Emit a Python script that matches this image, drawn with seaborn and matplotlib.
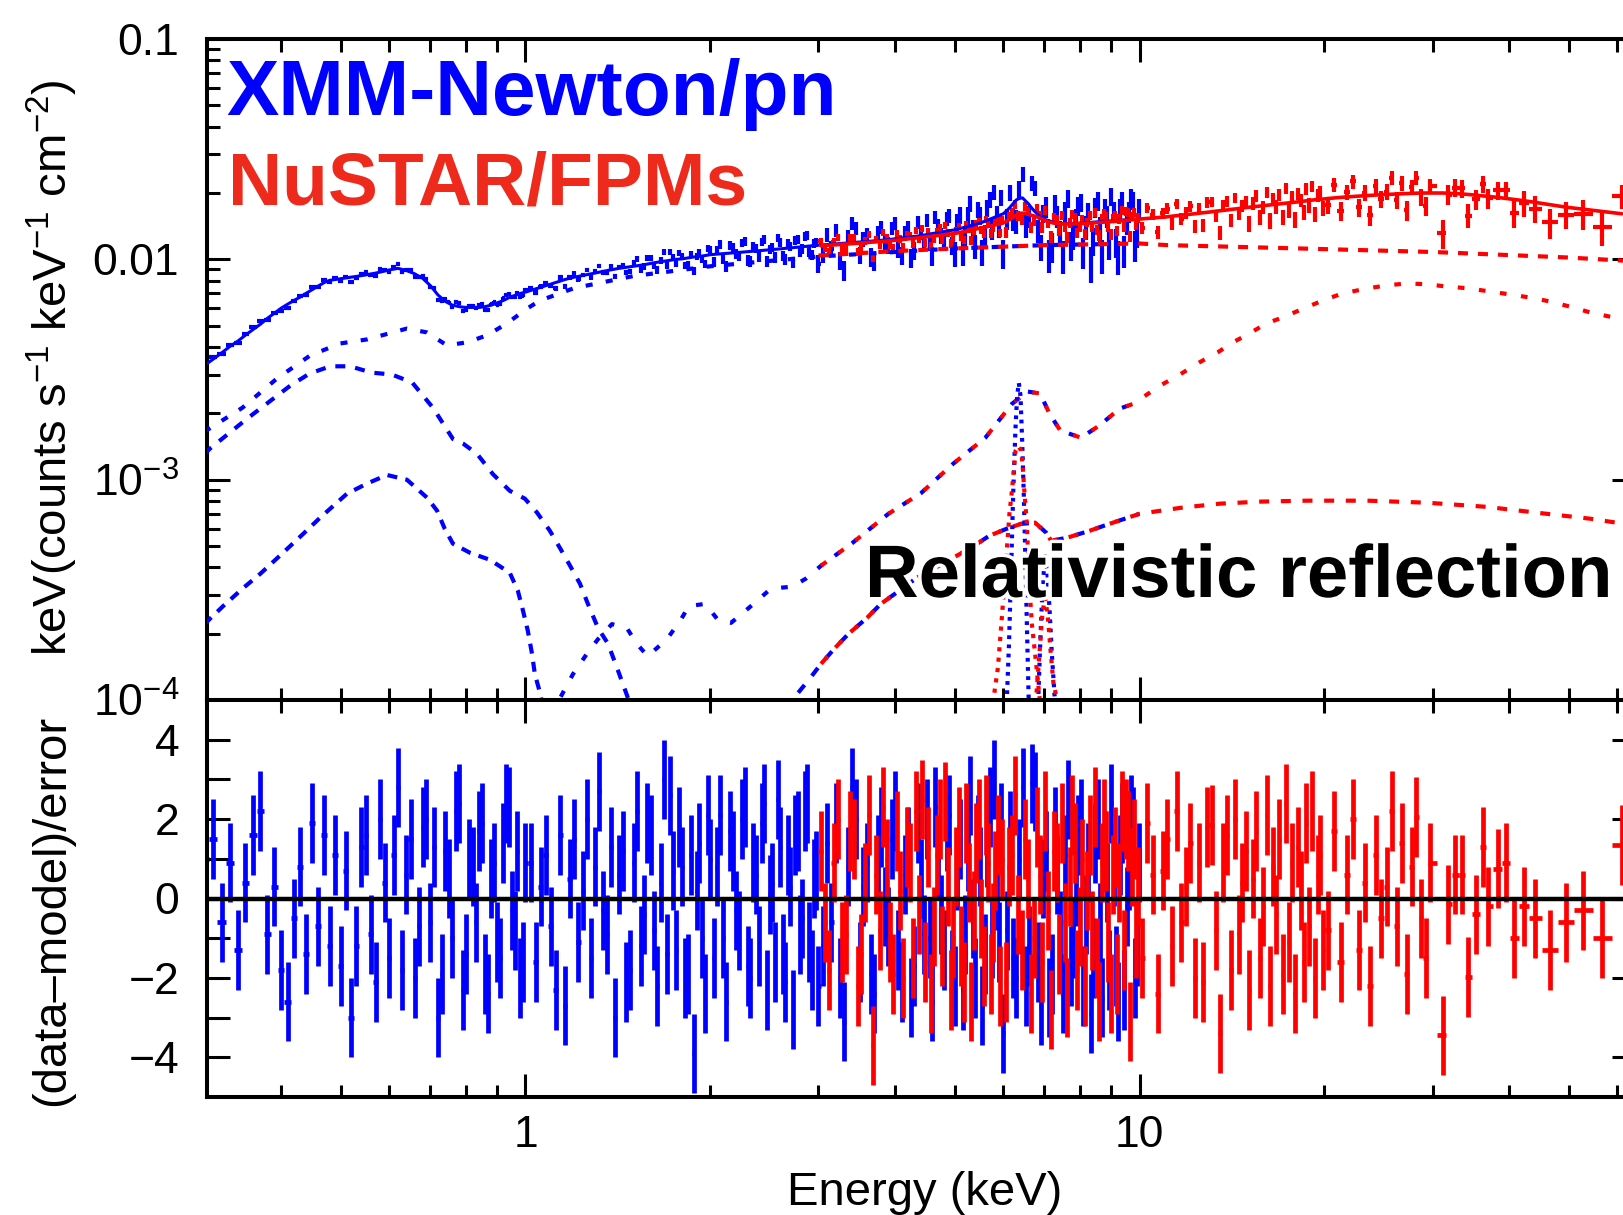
import numpy as np
import matplotlib as mpl
mpl.use('Agg')
import matplotlib.pyplot as plt
import matplotlib.patheffects as pe
from matplotlib.ticker import FixedLocator, FixedFormatter, NullFormatter
import seaborn as sns

sns.set_theme(style='ticks', rc={'axes.edgecolor': 'black', 'xtick.color': 'black',
                                 'ytick.color': 'black', 'text.color': 'black'})
plt.rcParams['font.family'] = ['Liberation Sans', 'DejaVu Sans']
plt.rcParams['mathtext.fontset'] = 'custom'
plt.rcParams['mathtext.rm'] = 'Liberation Sans'
plt.rcParams['mathtext.it'] = 'Liberation Sans:italic'
plt.rcParams['mathtext.bf'] = 'Liberation Sans:bold'
plt.rcParams['axes.unicode_minus'] = True

BLUE = '#0000ff'
RED = '#ff0000'

# ---- XMM-Newton/pn spectrum: bin energy (keV), model (1e-3 units), residual ----
blue_energy = [
    0.30, 0.31, 0.32, 0.33, 0.34, 0.35, 0.36, 0.37, 0.38, 0.39, 0.40,
    0.41, 0.42, 0.43, 0.44, 0.45, 0.46, 0.47, 0.48, 0.49, 0.50,
    0.51, 0.52, 0.53, 0.54, 0.55, 0.56, 0.57, 0.58, 0.59, 0.60,
    0.61, 0.62, 0.63, 0.64, 0.65, 0.66, 0.67, 0.68, 0.69, 0.70,
    0.71, 0.72, 0.73, 0.74, 0.75, 0.76, 0.77, 0.78, 0.79, 0.80,
    0.81, 0.82, 0.83, 0.84, 0.85, 0.86, 0.87, 0.88, 0.89, 0.90,
    0.91, 0.92, 0.93, 0.94, 0.95, 0.96, 0.97, 0.98, 0.99, 1.00,
    1.02, 1.04, 1.06, 1.08, 1.10, 1.12, 1.14, 1.16, 1.18, 1.20,
    1.22, 1.24, 1.26, 1.28, 1.30, 1.32, 1.34, 1.36, 1.38, 1.40,
    1.42, 1.44, 1.46, 1.48, 1.50, 1.52, 1.54, 1.56, 1.58, 1.60,
    1.62, 1.64, 1.66, 1.68, 1.70, 1.72, 1.74, 1.76, 1.78, 1.80,
    1.82, 1.84, 1.86, 1.88, 1.90, 1.92, 1.94, 1.96, 1.98, 2.00,
    2.025, 2.05, 2.075, 2.10, 2.125, 2.15, 2.175, 2.20, 2.225, 2.25,
    2.275, 2.30, 2.325, 2.35, 2.375, 2.40, 2.425, 2.45, 2.475, 2.50,
    2.525, 2.55, 2.575, 2.60, 2.625, 2.65, 2.675, 2.70, 2.725, 2.75,
    2.775, 2.80, 2.825, 2.85, 2.875, 2.90, 2.925, 2.95, 2.975, 3.00,
    3.05, 3.10, 3.15, 3.20, 3.25, 3.30, 3.35, 3.40, 3.45, 3.50,
    3.55, 3.60, 3.65, 3.70, 3.75, 3.80, 3.85, 3.90, 3.95, 4.00,
    4.05, 4.10, 4.15, 4.20, 4.25, 4.30, 4.35, 4.40, 4.45, 4.50,
    4.55, 4.60, 4.65, 4.70, 4.75, 4.80, 4.85, 4.90, 4.95, 5.00,
    5.05, 5.10, 5.15, 5.20, 5.25, 5.30, 5.35, 5.40, 5.45, 5.50,
    5.55, 5.60, 5.65, 5.70, 5.75, 5.80, 5.85, 5.90, 5.95, 6.00,
    6.075, 6.15, 6.225, 6.30, 6.375, 6.45, 6.525, 6.60, 6.675, 6.75,
    6.825, 6.90, 6.975, 7.05, 7.125, 7.20, 7.275, 7.35, 7.425, 7.50,
    7.575, 7.65, 7.725, 7.80, 7.875, 7.95, 8.025, 8.10, 8.175, 8.25,
    8.325, 8.40, 8.475, 8.55, 8.625, 8.70, 8.775, 8.85, 8.925, 9.00,
    9.075, 9.15, 9.225, 9.30, 9.375, 9.45, 9.525, 9.60, 9.675, 9.75,
    9.825, 9.90, 9.975,
]
blue_model = [
    3.30, 3.52, 3.76, 4.02, 4.25, 4.53, 4.80, 5.07, 5.40, 5.69, 6.00,
    6.26, 6.51, 6.75, 7.03, 7.30, 7.57, 7.84, 8.03, 8.10, 8.17,
    8.23, 8.30, 8.36, 8.43, 8.50, 8.58, 8.66, 8.75, 8.85, 8.95,
    9.03, 9.10, 9.00, 8.90, 8.75, 8.60, 8.40, 8.20, 7.90, 7.60,
    7.25, 6.90, 6.67, 6.45, 6.32, 6.20, 6.15, 6.10, 6.07, 6.05,
    6.05, 6.05, 6.05, 6.05, 6.07, 6.10, 6.15, 6.20, 6.27, 6.35,
    6.42, 6.50, 6.60, 6.70, 6.77, 6.85, 6.92, 7.00, 7.05, 7.10,
    7.22, 7.35, 7.47, 7.60, 7.72, 7.85, 7.97, 8.10, 8.20, 8.30,
    8.37, 8.45, 8.52, 8.60, 8.67, 8.75, 8.82, 8.90, 8.97, 9.05,
    9.10, 9.15, 9.20, 9.25, 9.30, 9.35, 9.40, 9.45, 9.52, 9.60,
    9.65, 9.70, 9.75, 9.80, 9.85, 9.90, 9.95, 10.0, 10.02, 10.05,
    10.1, 10.15, 10.2, 10.25, 10.27, 10.3, 10.35, 10.4, 10.45, 10.5,
    10.53, 10.56, 10.58, 10.61, 10.64, 10.67, 10.69, 10.72, 10.75, 10.78,
    10.8, 10.83, 10.86, 10.89, 10.91, 10.94, 10.97, 11.0, 11.02, 11.05,
    11.08, 11.1, 11.13, 11.16, 11.19, 11.21, 11.24, 11.27, 11.3, 11.32,
    11.35, 11.38, 11.41, 11.43, 11.46, 11.49, 11.52, 11.54, 11.57, 11.6,
    11.63, 11.67, 11.71, 11.75, 11.78, 11.82, 11.86, 11.9, 11.93, 11.97,
    12.0, 12.04, 12.08, 12.12, 12.16, 12.2, 12.24, 12.28, 12.34, 12.4,
    12.45, 12.5, 12.55, 12.6, 12.65, 12.7, 12.75, 12.8, 12.87, 12.95,
    13.02, 13.1, 13.15, 13.2, 13.28, 13.35, 13.42, 13.5, 13.55, 13.6,
    13.7, 13.8, 13.9, 14.0, 14.1, 14.2, 14.3, 14.4, 14.5, 14.6,
    14.75, 14.9, 15.05, 15.2, 15.35, 15.5, 15.65, 15.8, 15.95, 16.1,
    16.6, 17.2, 17.9, 18.6, 18.9, 19.0, 18.4, 17.8, 17.1, 16.5,
    16.0, 15.6, 15.35, 15.1, 14.95, 14.8, 14.7, 14.6, 14.55, 14.5,
    14.5, 14.5, 14.52, 14.55, 14.57, 14.6, 14.62, 14.65, 14.67, 14.7,
    14.72, 14.75, 14.77, 14.8, 14.82, 14.85, 14.87, 14.9, 14.92, 14.95,
    14.97, 15.0, 15.02, 15.05, 15.07, 15.1, 15.12, 15.15, 15.17, 15.2,
    15.22, 15.25, 15.27,
]
blue_resid = [
    1.0, 1.5, -0.6, 0.9, -1.3, 0.4, 1.6, 2.2, -0.9, 0.3, -1.8,
    -2.6, -0.5, 0.8, -1.4, 1.9, -0.7, 1.6, -1.2, 1.1, -1.7,
    0.7, -3.0, -1.2, 1.3, 1.6, -0.9, -2.1, 2.0, 0.4, -1.5,
    1.1, 2.8, -1.8, 0.6, 1.5, -2.0, -0.7, 1.8, 2.0, -0.6,
    1.3, -3.0, -1.9, 1.2, 0.5, -1.0, 2.2, 2.4, -2.3, -1.4,
    1.0, 0.8, -0.6, 1.7, 1.9, -1.9, -2.4, 0.5, 0.9, -1.1,
    -1.5, 1.4, 2.4, 2.3, -0.3, -0.8, 1.2, -2.0, -1.6, 0.9,
    0.9, -1.6, 0.3, 1.1, -0.7, -2.3, 1.6, -2.7, 0.5, 1.5,
    -1.1, 0.2, 2.0, -1.5, 0.8, 2.7, -0.3, -0.9, 1.3, -3.0,
    0.6, 1.2, -2.1, -1.8, 0.9, 2.2, -1.2, -0.4, 1.9, 1.6,
    -0.8, -2.2, 0.4, 3.0, -1.4, 2.6, 0.7, -1.3, 1.8, 0.8,
    -2.0, -1.9, 1.1, -3.9, 0.2, 1.4, -1.0, -2.4, 2.1, 1.0,
    -1.5, 0.8, 2.1, -1.0, -2.6, 1.7, 1.2, -0.3, -0.8, 2.0,
    2.3, -1.7, -2.0, 0.9, 0.6, -1.2, 1.9, 2.4, -2.3, 0.1,
    0.4, -1.6, 2.5, 1.3, -1.4, -2.1, 1.1, 0.3, -2.8, 1.6,
    1.7, -0.9, -0.5, 2.2, 2.4, -1.1, -1.8, 0.5, 0.7, -2.2,
    -1.2, 1.4, -0.6, 1.9, -2.0, -3.1, 0.8, 2.8, 2.0, -1.6,
    0.3, 0.9, -1.9, -2.4, 1.1, 1.8, -0.2, -0.7, 1.5, 2.2,
    -1.3, -2.1, 0.6, 1.3, -2.5, -1.7, 1.9, 0.5, -0.9, 2.0,
    -1.0, -2.6, 2.3, 1.0, -0.4, -1.3, 1.7, 2.1, -1.8, -2.2,
    0.7, 1.5, -2.3, -0.9, 1.2, 2.6, -0.5, -2.0, 1.6, 0.8,
    -2.7, -1.4, 1.3, 2.3, -1.0, 3.0, 0.2, -1.1, 1.9, -3.4,
    -0.8, 1.7, -1.5, -2.0, 1.0, 2.8, -2.2, -1.2, 2.9, 2.7,
    -1.6, -2.7, 0.5, 1.2, -2.5, -1.9, 1.8, 0.6, -0.8, -2.4,
    1.1, 2.5, -1.7, -1.0, 0.3, 1.6, 2.0, -2.2, -0.4, 0.9,
    -2.9, -1.5, 1.4, 2.0, -0.6, -2.5, 1.2, 0.4, -1.8, 2.4,
    0.8, -1.7, -2.6, 1.1, 1.9, -2.3, -0.2, 0.7, 2.1, 1.8,
    -2.0, -1.2, 0.9,
]
blue_err_edges = [0.3, 0.7, 1.0, 1.5, 2.0, 3.0, 5.0, 7.0, 10.0]
blue_err_level = [0.016, 0.018, 0.025, 0.035, 0.05, 0.08, 0.10, 0.12]

# ---- NuSTAR/FPMs spectrum ----
red_energy = [
    3.025, 3.075, 3.125, 3.175, 3.225, 3.275, 3.325, 3.375, 3.425, 3.475,
    3.525, 3.575, 3.625, 3.675, 3.725, 3.775, 3.825, 3.875, 3.925, 3.975,
    4.025, 4.075, 4.125, 4.175, 4.225, 4.275, 4.325, 4.375, 4.425, 4.475,
    4.525, 4.575, 4.625, 4.675, 4.725, 4.775, 4.825, 4.875, 4.925, 4.975,
    5.025, 5.075, 5.125, 5.175, 5.225, 5.275, 5.325, 5.375, 5.425, 5.475,
    5.525, 5.575, 5.625, 5.675, 5.725, 5.775, 5.825, 5.875, 5.925, 5.975,
    6.05, 6.125, 6.20, 6.275, 6.35, 6.425, 6.50, 6.575, 6.65, 6.725,
    6.80, 6.875, 6.95, 7.025, 7.10, 7.175, 7.25, 7.325, 7.40, 7.475,
    7.55, 7.625, 7.70, 7.775, 7.85, 7.925, 8.00, 8.075, 8.15, 8.225,
    8.30, 8.375, 8.45, 8.525, 8.60, 8.675, 8.75, 8.825, 8.90, 8.975,
    9.05, 9.125, 9.20, 9.275, 9.35, 9.425, 9.50, 9.575, 9.65, 9.725,
    9.80, 9.875, 9.95,
    10.1, 10.3, 10.5, 10.7, 10.9, 11.1, 11.3, 11.5, 11.7, 11.9,
    12.1, 12.3, 12.5, 12.7, 12.9, 13.1, 13.3, 13.5, 13.7, 13.9,
    14.1, 14.3, 14.5, 14.7, 14.9, 15.1, 15.3, 15.5, 15.7, 15.9,
    16.1, 16.3, 16.5, 16.7, 16.9, 17.1, 17.3, 17.5, 17.7, 17.9,
    18.1, 18.3, 18.5, 18.7, 18.9, 19.1, 19.3, 19.5, 19.7, 19.9,
    20.25, 20.75, 21.25, 21.75, 22.25, 22.75, 23.25, 23.75, 24.25, 24.75,
    25.25, 25.75, 26.25, 26.75, 27.25, 27.75, 28.25, 28.75, 29.25, 29.75,
    31.2, 31.8, 32.7, 33.5, 34.3, 35.3, 36.3, 37.0, 38.3, 39.5,
    40.7, 42.3, 44.0, 46.6, 49.5, 52.7, 56.7, 61.0,
]
red_model = [
    11.52, 11.55, 11.59, 11.62, 11.66, 11.69, 11.73, 11.76, 11.8, 11.83,
    11.87, 11.9, 11.94, 11.97, 12.01, 12.04, 12.08, 12.11, 12.15, 12.18,
    12.22, 12.27, 12.31, 12.36, 12.4, 12.45, 12.49, 12.54, 12.58, 12.63,
    12.67, 12.72, 12.76, 12.81, 12.85, 12.9, 12.94, 12.99, 13.03, 13.08,
    13.14, 13.21, 13.29, 13.36, 13.44, 13.51, 13.59, 13.66, 13.74, 13.81,
    13.89, 13.96, 14.04, 14.11, 14.19, 14.26, 14.34, 14.41, 14.49, 14.56,
    14.8, 15.1, 15.4, 15.75, 16.1, 16.2, 16.2, 16.05, 15.9, 15.75,
    15.6, 15.4, 15.2, 15.0, 14.8, 14.7, 14.6, 14.55, 14.5, 14.47,
    14.45, 14.45, 14.45, 14.47, 14.5, 14.5, 14.5, 14.52, 14.55, 14.57,
    14.6, 14.62, 14.65, 14.67, 14.7, 14.72, 14.75, 14.77, 14.8, 14.82,
    14.85, 14.87, 14.9, 14.95, 15.0, 15.02, 15.05, 15.07, 15.1, 15.12,
    15.15, 15.17, 15.2,
    15.27, 15.33, 15.4, 15.47, 15.53, 15.6, 15.7, 15.78, 15.85, 15.95,
    16.03, 16.1, 16.2, 16.28, 16.35, 16.45, 16.53, 16.6, 16.67, 16.75,
    16.85, 16.92, 17.0, 17.1, 17.17, 17.23, 17.3, 17.37, 17.43, 17.5,
    17.57, 17.63, 17.7, 17.77, 17.83, 17.9, 17.97, 18.03, 18.1, 18.17,
    18.23, 18.3, 18.37, 18.43, 18.5, 18.57, 18.63, 18.7, 18.73, 18.77,
    18.88, 18.98, 19.1, 19.2, 19.28, 19.36, 19.44, 19.52, 19.58, 19.63,
    19.7, 19.75, 19.8, 19.84, 19.88, 19.92, 19.96, 20.0, 20.0, 20.0,
    20.0, 19.95, 19.9, 19.8, 19.7, 19.55, 19.4, 19.3, 19.1, 18.9,
    18.7, 18.45, 18.15, 17.7, 17.25, 16.9, 16.5, 16.1,
]
red_resid = [
    1.2, -0.6, -1.8, 0.9, 2.0, -1.1, -0.9, 1.7, 1.5, -2.2,
    -1.4, 0.4, 2.1, -3.7, 0.6, -0.8, 2.3, 1.0, -1.1, -1.9,
    1.7, 0.2, -2.0, 1.3, 0.9, -1.5, 2.2, -0.4, 2.5, -1.6,
    1.3, -2.4, -0.7, 1.1, 2.0, -1.2, 2.45, 0.3, -2.3, -1.0,
    0.8, 1.8, -1.2, -2.1, 1.9, 0.4, -2.6, -0.3, 1.4, 2.0,
    -0.5, -1.7, 2.1, 0.9, -1.9, -0.6, 0.7, 1.6, -2.2, 1.0,
    -2.1, 0.8, 1.1, 2.6, -0.4, -1.3, 1.5, 0.5, -2.4, -1.0,
    1.8, 0.6, -1.6, 2.2, -0.3, -2.8, 1.2, 0.9, -1.4, 1.9,
    -0.6, -2.5, 0.3, 2.1, 1.4, -1.8, -0.7, 1.0, -2.2, 0.2,
    1.6, -0.8, 2.3, -1.5, -2.6, 0.9, 2.0, 1.2, -1.1, -2.4,
    0.6, 1.3, -1.9, 0.4, 2.2, -1.3, 2.0, 1.7, -3.1, 0.8,
    1.5, -1.0, 0.3,
    -1.5, 1.9, 0.6, -2.4, 0.7, 1.5, -1.2, 2.2, -0.6, 0.3,
    1.4, -2.0, 0.9, -2.1, 1.8, 1.85, -0.8, -3.4, 0.9, 1.6,
    -1.8, 2.0, -0.9, 0.4, 1.2, -2.3, 0.5, 1.7, -1.5, -0.2,
    2.1, -2.2, 0.8, -0.4, 1.5, -1.9, 2.4, -1.1, 0.9, -2.4,
    1.3, 0.2, -1.6, 1.9, -0.7, 2.2, -2.0, 0.6, 1.1, -1.3,
    -0.8, 1.7, -1.6, 0.6, 2.0, -1.3, 0.4, -2.2, 1.1, -0.5,
    0.3, 2.2, -0.7, 1.4, -1.9, 0.8, 2.05, -0.5, -1.5, 0.9,
    -3.45, -0.15, 0.6, 0.6, -1.98, -0.4, 1.3, -0.2, 0.75, 0.9,
    -1.0, -0.2, -0.5, -1.3, -0.6, -0.3, -1.0, 1.35,
]
red_err_edges = [3.0, 6.0, 10.0, 15.0, 20.0, 30.0, 40.0, 50.0, 62.0]
red_err_level = [0.04, 0.05, 0.06, 0.07, 0.085, 0.10, 0.13, 0.15]

# ---- model components (E in keV, flux in 1e-3) ----
pl_blue_e = [0.30, 0.346, 0.394, 0.446, 0.499, 0.552, 0.641, 0.691, 0.745, 0.803,
             0.866, 0.933, 1.006, 1.056, 1.2, 1.5, 2.0, 3.0, 5.0, 7.0, 10.0]
pl_blue_f = [1.65, 2.12, 2.88, 3.66, 4.15, 4.33, 4.85, 4.66, 4.07, 4.2,
             4.52, 5.12, 5.98, 6.5, 7.4, 8.4, 9.3, 10.3, 11.2, 11.6, 11.8]
pl_red_e = [3.0, 4.0, 5.0, 7.0, 10.0, 11.1, 18.3, 30.0, 49.6, 64.0]
pl_red_f = [10.4, 10.9, 11.2, 11.6, 11.8, 11.6, 11.2, 10.8, 10.2, 9.8]

soft1_e = [0.30, 0.306, 0.352, 0.414, 0.445, 0.481, 0.518, 0.562, 0.606, 0.654,
           0.707, 0.762, 0.791, 0.834, 0.885, 0.943, 0.998, 1.044, 1.096, 1.138,
           1.182, 1.227, 1.264, 1.313, 1.363, 1.415, 1.469, 1.52]
soft1_f = [1.30, 1.38, 1.89, 2.67, 3.03, 3.27, 3.27, 3.06, 3.0, 2.76,
           2.12, 1.53, 1.46, 1.31, 1.06, 0.89, 0.82, 0.71, 0.586, 0.49,
           0.407, 0.337, 0.273, 0.212, 0.18, 0.136, 0.102, 0.075]

soft2_e = [0.30, 0.306, 0.322, 0.346, 0.37, 0.403, 0.435, 0.463, 0.512, 0.552,
           0.595, 0.641, 0.691, 0.718, 0.739, 0.762, 0.812, 0.875, 0.943, 0.972,
           0.991, 1.009, 1.025, 1.036, 1.056, 1.08]
soft2_f = [0.22, 0.233, 0.267, 0.32, 0.374, 0.466, 0.569, 0.672, 0.863, 0.96,
           1.05, 1.0, 0.83, 0.723, 0.598, 0.512, 0.466, 0.433, 0.378, 0.313,
           0.254, 0.206, 0.162, 0.131, 0.108, 0.08]

refl1_e = [1.10, 1.147, 1.195, 1.259, 1.313, 1.383, 1.463, 1.518, 1.582, 1.70,
           1.785, 1.846, 1.962, 2.066, 2.162, 2.33, 2.51, 2.72, 2.86, 3.03,
           3.41, 3.90, 4.41, 4.97, 5.61, 6.20, 6.58, 6.89, 7.13, 7.43,
           8.03, 8.6, 9.28, 9.77, 10.8, 11.7, 12.5, 13.4, 14.2, 15.1,
           16.1, 17.1, 18.5, 19.9, 21.4, 23.5, 25.3, 27.3, 29.4, 31.6,
           34.4, 37.0, 40.1, 43.2, 46.6, 50.8, 54.2, 59.1, 64.0]
refl1_f = [0.085, 0.106, 0.131, 0.162, 0.189, 0.221, 0.212, 0.18, 0.158, 0.189,
           0.228, 0.267, 0.273, 0.228, 0.224, 0.267, 0.32, 0.327, 0.355, 0.407,
           0.517, 0.70, 0.87, 1.18, 1.55, 2.21, 2.51, 2.46, 2.0, 1.67,
           1.55, 1.76, 2.1, 2.21, 2.67, 3.03, 3.4, 3.78, 4.2, 4.61,
           5.12, 5.45, 5.98, 6.51, 7.0, 7.38, 7.62, 7.78, 7.7, 7.53,
           7.38, 7.16, 6.93, 6.71, 6.44, 6.05, 5.74, 5.45, 5.2]

refl2_e = [2.65, 2.72, 2.91, 3.03, 3.19, 3.36, 3.60, 3.79, 4.06, 4.34,
           4.65, 4.97, 5.32, 5.69, 6.07, 6.41, 6.76, 7.05, 7.18, 7.62,
           8.29, 8.93, 10.0, 11.7, 13.5, 15.7, 18.8, 23.5, 29.4, 36.7,
           46.0, 54.2, 64.0]
refl2_f = [0.09, 0.10, 0.126, 0.146, 0.172, 0.20, 0.236, 0.273, 0.313, 0.359,
           0.398, 0.442, 0.491, 0.556, 0.598, 0.63, 0.638, 0.574, 0.528, 0.545,
           0.586, 0.63, 0.70, 0.746, 0.778, 0.795, 0.803, 0.803, 0.786, 0.753,
           0.70, 0.665, 0.62]

fe_blue_e = [6.00, 6.08, 6.13, 6.18, 6.23, 6.28, 6.32, 6.36, 6.40, 6.44,
             6.48, 6.52, 6.56, 6.60, 6.66]
fe_blue_f = [0.06, 0.10, 0.18, 0.40, 0.90, 1.70, 2.40, 2.75, 2.40, 1.50,
             0.85, 0.42, 0.20, 0.10, 0.05]
fe26_blue_e = [6.78, 6.84, 6.90, 6.96, 7.02, 7.08, 7.14, 7.20, 7.28, 7.35]
fe26_blue_f = [0.06, 0.10, 0.20, 0.35, 0.45, 0.38, 0.25, 0.16, 0.10, 0.06]
fe_red_e = [5.70, 5.78, 5.88, 5.97, 6.07, 6.14, 6.20, 6.24, 6.28, 6.35,
            6.42, 6.46, 6.50, 6.55, 6.62, 6.68, 6.78, 6.88, 6.98]
fe_red_f = [0.07, 0.10, 0.14, 0.24, 0.45, 0.70, 0.90, 1.10, 1.35, 1.42,
            1.35, 1.10, 0.85, 0.65, 0.32, 0.22, 0.15, 0.10, 0.07]
fe26_red_e = [6.70, 6.80, 6.88, 6.95, 7.02, 7.09, 7.16, 7.24, 7.34, 7.45]
fe26_red_f = [0.07, 0.11, 0.17, 0.25, 0.29, 0.24, 0.17, 0.12, 0.10, 0.07]


def err_lookup(energy, edges, levels):
    idx = np.searchsorted(edges, energy, side='right') - 1
    return np.asarray(levels)[np.clip(idx, 0, len(levels) - 1)]


def bin_halfwidths(energy):
    e = np.asarray(energy)
    mid = np.sqrt(e[1:] * e[:-1])
    lo = np.empty_like(e)
    hi = np.empty_like(e)
    lo[1:] = e[1:] - mid
    hi[:-1] = mid - e[:-1]
    lo[0] = hi[0]
    hi[-1] = lo[-1]
    return [lo, hi]


W, H = 1623, 1215
fig = plt.figure(figsize=(W / 100, H / 100), dpi=100)
ax1 = fig.add_axes([207 / W, (H - 700) / H, (1635 - 207) / W, 661 / H])
ax2 = fig.add_axes([207 / W, (H - 1097) / H, (1635 - 207) / W, 397 / H])

# data points: spectrum (top) and residuals (bottom)
for energy, model, resid, edges, levels, col in [
        (blue_energy, blue_model, blue_resid, blue_err_edges, blue_err_level, BLUE),
        (red_energy, red_model, red_resid, red_err_edges, red_err_level, RED)]:
    e = np.asarray(energy)
    m = np.asarray(model) * 1e-3
    r = np.asarray(resid)
    rel = err_lookup(e, edges, levels)
    flux = m * (1 + r * rel)
    xerr = bin_halfwidths(e)
    ax1.errorbar(e, flux, yerr=m * rel, xerr=xerr, fmt='none', ecolor=col,
                 elinewidth=3.0, capsize=0, zorder=2)
    ax2.errorbar(e, r, yerr=np.ones_like(r), xerr=xerr, fmt='none', ecolor=col,
                 elinewidth=3.4, capsize=0, zorder=2)


def comp(x, y, color, dash, lw=3.0, solid=False):
    ls = '-' if solid else (0, dash)
    sns.lineplot(x=np.asarray(x), y=np.asarray(y) * 1e-3, ax=ax1, color=color,
                 lw=lw, linestyle=ls, estimator=None, sort=False, zorder=4)


# total models
comp(blue_energy, blue_model, BLUE, None, lw=2.2, solid=True)
comp(red_energy, red_model, RED, None, lw=2.6, solid=True)

# model components
comp(pl_blue_e, pl_blue_f, BLUE, (1.7, 3.2))
comp(soft1_e, soft1_f, BLUE, (2.4, 2.4))
comp(soft2_e, soft2_f, BLUE, (2.4, 2.0))
comp(pl_red_e, pl_red_f, RED, (2.4, 2.4))

r1e = np.asarray(refl1_e)
r1f = np.asarray(refl1_f)
r2e = np.asarray(refl2_e)
r2f = np.asarray(refl2_f)
comp(r1e[r1e <= 10.0], r1f[r1e <= 10.0], BLUE, (1.6, 3.5))
comp(r1e[r1e >= 3.0], r1f[r1e >= 3.0], RED, (1.6, 3.5))
comp(r2e[r2e <= 10.0], r2f[r2e <= 10.0], BLUE, (2.4, 2.8))
comp(r2e[r2e >= 3.0], r2f[r2e >= 3.0], RED, (2.4, 2.8))

comp(fe_blue_e, fe_blue_f, BLUE, (0.9, 1.3))
comp(fe26_blue_e, fe26_blue_f, BLUE, (0.9, 1.3))
comp(fe_red_e, fe_red_f, RED, (1.0, 1.5))
comp(fe26_red_e, fe26_red_f, RED, (1.0, 1.5))

ax2.axhline(0, color='black', lw=3.2, zorder=5)

x_minor = [0.4, 0.5, 0.6, 0.7, 0.8, 0.9, 2, 3, 4, 5, 6, 7, 8, 9,
           20, 30, 40, 50, 60]
for ax in (ax1, ax2):
    ax.set_xscale('log')
    ax.set_xlim(0.303, 64.1)
    ax.xaxis.set_major_locator(FixedLocator([1, 10]))
    ax.xaxis.set_minor_locator(FixedLocator(x_minor))
    ax.xaxis.set_minor_formatter(NullFormatter())
    ax.tick_params(which='both', direction='in', top=True, right=True,
                   width=2.2, color='black')
    ax.tick_params(which='major', length=16.5)
    ax.tick_params(which='minor', length=9)
    for s in ax.spines.values():
        s.set_linewidth(2.9)
        s.set_color('black')
    ax.set_xlabel('')
    ax.set_ylabel('')
    ax.set_facecolor('white')

ax1.set_yscale('log')
ax1.set_ylim(1e-4, 0.1)
ax1.yaxis.set_major_locator(FixedLocator([1e-4, 1e-3, 1e-2, 1e-1]))
ax1.yaxis.set_major_formatter(FixedFormatter(['10$^{-4}$', '10$^{-3}$', '0.01', '0.1']))
y_minor = [k * 10.0 ** d for d in (-4, -3, -2) for k in range(2, 10)]
ax1.yaxis.set_minor_locator(FixedLocator(y_minor))
ax1.yaxis.set_minor_formatter(NullFormatter())
ax1.xaxis.set_major_formatter(NullFormatter())
ax1.tick_params(axis='y', which='major', labelsize=32, pad=20)

ax2.set_ylim(-5, 5)
ax2.yaxis.set_major_locator(FixedLocator([-4, -2, 0, 2, 4]))
ax2.yaxis.set_major_formatter(FixedFormatter(['\u22124', '\u22122', '0', '2', '4']))
ax2.yaxis.set_minor_locator(FixedLocator([-3, -1, 1, 3]))
ax2.tick_params(axis='y', which='minor', length=16.5, right=False)
ax2.xaxis.set_major_formatter(FixedFormatter(['1', '10']))
ax2.tick_params(axis='y', which='major', labelsize=32, pad=20)
ax2.tick_params(axis='x', which='major', labelsize=32, pad=13)

# axis labels and annotations
fig.text(52 / W, 1 - 368 / H, 'keV(counts s$^{-1}$ keV$^{-1}$ cm$^{-2}$)',
         rotation=90, fontsize=34, ha='center', va='center')
fig.text(52 / W, 1 - 910 / H, '(data\u2013model)/error',
         rotation=90, fontsize=34, ha='center', va='center')
fig.text(787 / W, 1 - 1205 / H, 'Energy (keV)', fontsize=34, ha='left', va='baseline')

fig.text(226 / W, 1 - 115 / H, 'XMM-Newton/pn', color=BLUE, fontsize=56.5,
         fontweight='bold', ha='left', va='baseline')
fig.text(228 / W, 1 - 205 / H, 'NuSTAR/FPMs', color='#ee2a1c', fontsize=54,
         fontweight='bold', ha='left', va='baseline')
fig.text(865 / W, 1 - 597 / H, 'Relativistic reflection', color='black', fontsize=53.5,
         fontweight='bold', ha='left', va='baseline', zorder=10,
         path_effects=[pe.withStroke(linewidth=5, foreground='white')])

fig.savefig('out.png', dpi=100)
